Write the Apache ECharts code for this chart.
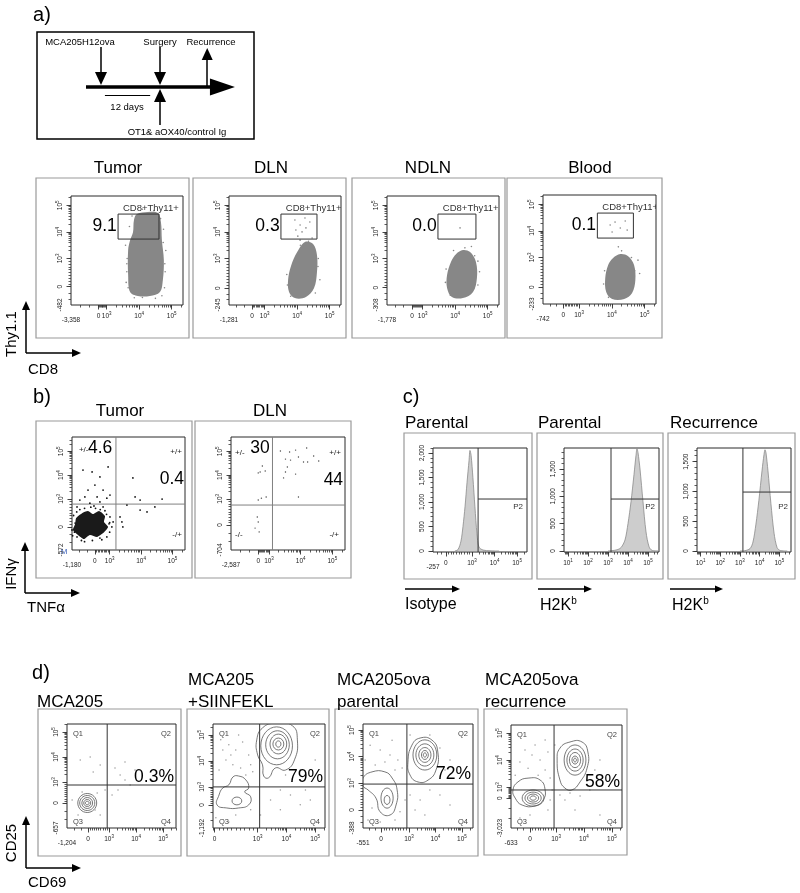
<!DOCTYPE html>
<html><head><meta charset="utf-8">
<script src="https://cdn.jsdelivr.net/npm/echarts@6/dist/echarts.min.js"></script>
<style>html,body{margin:0;padding:0;background:#fff}#c{width:800px;height:893px}</style>
</head><body><div id="c"></div>
<script>
// ===================== DATA =====================
// a) timeline (days)
const tlEvents = ['MCA205H12ova', 'Surgery', 'Recurrence'];
const tlEventDays = [0, 12, 21.6];
const tlTreatment = 'OT1& aOX40/control Ig';
const tlTreatmentDay = 12;
const tlInterval = [0.8, 10];
const tlIntervalLabel = '12 days';

// a) CD8 vs Thy1.1 (axis units: decades, 10^3 = 3)
const aTitles = ['Tumor', 'DLN', 'NDLN', 'Blood'];
const aPercents = ['9.1', '0.3', '0.0', '0.1'];
const aGateName = 'CD8+Thy11+';
const aXMinLabels = ['-3,358', '-1,281', '-1,778', '-742'];
const aYMinLabels = ['-482', '-245', '-308', '-233'];
const aXZero = [2.75, 2.61, 2.67, 2.52];
const aYZero = [1.94, 1.88, 1.9, 1.88];
const aGates = [[3.35, 4.61, 3.73, 4.67], [3.5, 4.61, 3.73, 4.67], [3.47, 4.64, 3.73, 4.67], [3.56, 4.66, 3.73, 4.67]];
const aClouds = [
  [[3.93,4.67],[4.27,4.75],[4.58,4.71],[4.67,4.37],[4.70,3.69],[4.76,2.94],[4.73,2.19],[4.64,1.74],[4.33,1.59],[3.96,1.59],[3.72,1.74],[3.66,2.38],[3.66,3.32],[3.72,3.69],[3.81,3.99],[3.84,4.45]],
  [[4.24,3.62],[4.49,3.54],[4.61,3.13],[4.61,2.49],[4.52,1.89],[4.27,1.55],[3.93,1.51],[3.75,1.74],[3.72,2.19],[3.81,2.72],[4.00,3.24]],
  [[4.24,3.32],[4.46,3.24],[4.64,2.87],[4.67,2.27],[4.55,1.74],[4.24,1.51],[3.90,1.55],[3.75,1.89],[3.75,2.38],[3.87,2.87],[4.03,3.17]],
  [[4.26,3.13],[4.50,3.05],[4.68,2.72],[4.72,2.15],[4.62,1.66],[4.38,1.44],[4.01,1.44],[3.83,1.70],[3.80,2.23],[3.89,2.72],[4.04,2.98]]
];
const aDots = [
  [[3.62,2.8],[3.6,2.1],[4.8,2.5],[4.82,3.3],[4.75,4.1],[3.7,4.2],[4.1,4.85],[3.58,3.5],[4.78,1.9],[4.5,1.5],[3.85,1.52],[3.63,3.0],[3.62,2.5],[4.79,2.8],[4.74,3.6],[4.66,4.5],[4.45,4.8],[3.78,4.6],[3.66,1.9],[4.1,1.53],[4.7,1.6]],
  [[3.93,4.45],[4.09,4.26],[4.24,4.52],[4.15,4.00],[4.02,3.84],[4.27,4.15],[4.39,4.37],[3.96,4.07],[4.09,3.69],[4.46,3.77],[4.65,3.0],[3.68,2.4],[4.7,2.2],[4.1,3.5],[3.7,2.0],[4.64,2.7],[4.56,1.7],[3.8,1.58],[4.35,3.65]],
  [[4.15,4.15],[4.7,2.9],[3.7,2.1],[4.5,3.45],[4.75,2.5],[3.95,3.3],[4.7,2.0],[3.72,2.6],[4.6,3.1],[4.3,3.4],[3.85,1.62]],
  [[3.95,4.22],[4.10,4.33],[4.26,4.11],[4.41,4.37],[4.01,3.96],[4.47,4.03],[4.2,3.4],[4.8,2.9],[3.75,2.0],[4.85,2.4],[4.7,2.5],[3.78,2.5],[4.6,3.0],[4.3,3.25],[3.9,1.5]]
];

// b) TNFa vs IFNg
const bTitles = ['Tumor', 'DLN'];
const bXMinLabels = ['-1,180', '-2,587'];
const bYMinLabels = ['-572', '-704'];
const bXZero = [2.53, 2.66];
const bYZero = [1.82, 1.90];
const bQuadX = [3.20, 3.11];
const bQuadY = [2.78, 2.74];
const bQuadNames = ['+/-', '+/+', '-/-', '-/+'];
const bValues = [['4.6', '0.4'], ['30', '44']];
const bCore = [[1.93,2.19],[2.12,2.40],[2.31,2.49],[2.47,2.36],[2.66,2.49],[2.85,2.28],[2.82,2.03],[2.95,1.82],[2.79,1.56],[2.60,1.40],[2.37,1.48],[2.18,1.31],[1.99,1.48],[1.83,1.69],[1.90,1.94]];
const bDots = [
  [[2.15,4.21],[2.44,4.13],[2.69,3.92],[2.53,3.58],[2.31,3.37],[2.79,3.37],[2.21,3.08],[2.60,3.08],[2.91,3.03],[2.05,2.95],[2.37,2.82],[2.69,2.87],[3.01,3.16],[1.96,2.66],[2.79,2.66],[2.95,4.34],
   [3.74,3.88],[3.81,3.08],[3.97,2.95],[4.67,2.99],[3.33,2.24],[3.39,2.03],[3.42,1.82],[4.19,2.45],[4.44,2.66],[3.97,2.53],[3.55,2.74],
   [1.90,1.98],[3.01,2.24],[3.07,1.82],[2.91,1.40],[1.96,1.40],[2.69,1.35],[1.80,1.69],[3.11,2.03],[2.2,2.6],[2.5,2.7],[2.85,2.5],[3.0,2.0],[2.1,1.25],
   [1.85,2.3],[2.05,2.55],[2.55,2.6],[2.9,2.35],[3.0,1.6],[2.75,1.28],[2.2,1.2],[1.82,1.45],[2.4,2.65],[2.7,2.55],[1.95,2.45],[2.98,1.95],[2.45,1.25],[1.88,1.6]],
  [[3.36,5.01],[3.65,4.97],[3.84,5.05],[4.19,5.14],[3.52,4.67],[3.68,4.63],[3.93,4.76],[4.09,4.55],[4.22,4.55],[4.41,4.80],[4.57,4.59],[3.58,4.34],[3.52,4.13],[3.46,3.88],[3.84,4.04],[3.93,3.08],
   [2.79,4.38],[2.72,4.13],[2.88,4.17],[2.66,4.09],[2.76,3.03],[2.91,3.08],[2.66,2.95],[2.63,2.24],[2.66,2.03],[2.56,1.77],[2.69,1.61]]
];

// c) H2Kb histograms (x: decades, y: counts)
const cTitles = ['Parental', 'Parental', 'Recurrence'];
const cStains = ['Isotype', 'H2K', 'H2K'];
const cStainSup = ['', 'b', 'b'];
const cXMinLabels = ['-257', '0', '0'];
const cHistX = [
  [2.24,2.38,2.51,2.60,2.69,2.78,2.87,2.91,2.96,3.04,3.13,3.22,3.31,3.49,3.80,4.2],
  [3.0,3.20,3.45,3.65,3.85,4.00,4.15,4.30,4.40,4.45,4.50,4.60,4.75,4.90,5.05,5.20,5.5],
  [3.0,3.25,3.51,3.66,3.81,3.96,4.12,4.22,4.27,4.32,4.42,4.57,4.73,4.88,5.03,5.4]
];
const cHistY = [
  [0,30,200,500,900,1400,1850,2050,1950,1500,900,350,80,20,5,0],
  [0,5,20,60,200,500,900,1400,1750,1870,1800,1500,900,350,80,10,0],
  [0,5,40,150,450,850,1350,1620,1700,1650,1350,800,300,60,10,0]
];
const cGateX = [3.27, 3.15, 3.15];
const cGateY = [1060, 950, 990];
const cGateName = 'P2';

// d) CD69 vs CD25
const dTitles = [['MCA205'], ['MCA205', '+SIINFEKL'], ['MCA205ova', 'parental'], ['MCA205ova', 'recurrence']];
const dPercents = ['0.3%', '79%', '72%', '58%'];
const dQuadNames = ['Q1', 'Q2', 'Q3', 'Q4'];
const dXMinLabels = ['-1,204', '-277', '-551', '-633'];
const dYMinLabels = ['-657', '-1,192', '-388', '-3,023'];
const dXZero = [2.22, 1.5, 1.94, 2.07];
const dYZero = [2.16, 2.31, 1.98, 2.59];
const dQuadX = [2.93, 3.07, 2.92, 2.93];
const dQuadY = [2.88, 3.0, 2.96, 2.89];
const dOutlines = [
  [],
  [[[2.97,4.81],[3.17,5.27],[3.62,5.45],[4.21,5.35],[4.38,4.81],[4.28,4.04],[3.97,3.65],[3.62,3.73],[3.38,3.35],[3.21,3.42],[3.17,3.85],[3.0,4.23]],
   [[1.59,2.31],[1.66,2.69],[1.79,2.96],[2.0,3.08],[2.14,3.38],[2.34,3.42],[2.59,3.27],[2.69,2.96],[2.55,2.81],[2.76,2.62],[2.69,2.31],[2.34,2.19],[1.93,2.19]]],
  [[[2.96,3.79],[3.11,4.43],[3.42,4.70],[3.87,4.62],[4.09,4.17],[4.02,3.49],[3.72,3.11],[3.34,3.04],[3.04,3.30]],
   [[1.26,3.19],[1.60,3.42],[2.09,3.42],[2.36,3.19],[2.55,2.74],[2.51,2.17],[2.28,1.79],[1.91,1.91],[1.75,2.43],[1.45,2.74],[1.26,2.89]]],
  [[[1.46,2.89],[1.64,3.19],[2.0,3.33],[2.43,3.26],[2.61,2.89],[2.54,2.52],[2.25,2.30],[1.79,2.33],[1.54,2.59]],
   [[3.04,4.0],[3.14,4.44],[3.5,4.67],[3.93,4.67],[4.14,4.30],[4.11,3.70],[3.86,3.19],[3.57,2.89],[3.32,2.96],[3.14,3.26]]]
];
const dRings = [
  [[2.19,2.16,0.35,0.38],[2.19,2.16,0.28,0.30],[2.19,2.16,0.20,0.22],[2.19,2.16,0.13,0.14],[2.19,2.16,0.07,0.07]],
  [[3.66,4.58,0.55,0.73],[3.69,4.62,0.41,0.54],[3.72,4.65,0.29,0.38],[3.72,4.65,0.19,0.23],[3.72,4.65,0.09,0.12],[2.28,2.46,0.17,0.15]],
  [[3.60,4.06,0.45,0.57],[3.60,4.06,0.34,0.42],[3.60,4.06,0.23,0.28],[3.60,4.06,0.13,0.17],[3.60,4.06,0.06,0.08],[2.17,2.43,0.23,0.38],[2.17,2.36,0.11,0.17]],
  [[2.18,2.59,0.39,0.30],[2.18,2.59,0.29,0.22],[2.18,2.59,0.20,0.15],[2.18,2.59,0.11,0.08],[3.68,4.0,0.39,0.56],[3.68,4.0,0.29,0.41],[3.68,4.0,0.2,0.28],[3.68,4.0,0.11,0.15],[3.68,4.0,0.05,0.07]]
];
const dDots = [
  [[2.41,3.4],[2.67,3.68],[3.22,3.56],[3.41,3.28],[3.59,3.08],[3.33,2.68],[3.78,2.88],[3.11,2.48],[2.85,2.68],[2.56,2.56],[1.93,3.88],[2.30,4.0],[3.59,3.8],[3.96,3.48],[1.85,1.68],[2.67,1.68],[2.48,1.88],[2.0,2.6],[1.63,2.28]],
  [[1.72,4.81],[2.0,4.62],[2.24,4.42],[2.48,4.73],[2.69,4.23],[1.9,4.04],[2.14,3.85],[2.41,3.73],[2.76,3.85],[1.66,3.65],[2.59,3.46],[2.83,3.58],[2.07,4.23],[2.34,5.0],[1.79,4.42],[4.48,3.65],[4.66,2.88],[4.14,2.69],[3.79,2.88],[3.45,2.5],[4.48,2.31],[4.83,2.5],[3.79,2.12],[3.1,1.92],[3.97,3.46],[4.48,3.27],[5.0,4.04],[2.24,1.92],[2.76,2.12],[1.55,1.81],[2.0,1.65]],
  [[1.53,4.43],[1.91,4.25],[2.28,4.06],[2.58,3.87],[1.72,3.68],[2.09,3.79],[2.47,3.49],[2.74,3.57],[1.60,2.06],[2.66,1.91],[2.85,2.36],[3.04,2.55],[3.42,2.36],[3.79,2.74],[4.17,2.55],[4.55,2.17],[3.23,1.98],[3.6,1.79],[2.47,1.60],[1.91,1.53],[4.36,3.49],[4.55,3.87],[4.17,4.32],[3.79,4.81],[3.04,4.81],[2.36,4.62],[1.34,3.87],[1.45,1.60]],
  [[1.89,4.37],[2.14,4.19],[2.43,4.0],[2.71,4.3],[2.25,4.56],[2.61,3.63],[2.79,3.33],[2.0,3.7],[2.36,3.44],[1.71,3.93],[2.86,2.89],[3.14,2.7],[3.5,2.78],[3.32,2.52],[3.86,2.67],[4.21,2.89],[4.39,3.63],[4.57,4.0],[2.79,2.52],[2.71,2.15],[2.07,1.96],[1.71,1.85],[3.68,2.15],[4.57,1.96],[2.96,4.56],[2.61,4.74],[1.54,3.44]]
];

// ===================== LAYOUT / STYLE =====================
const FONT = '"Liberation Sans", Arial, Helvetica, sans-serif';
const aLayout = {
  grids: [[71,196,112,109],[229,196,112,109],[387,196,112,109],[543,195,113,109]],
  boxes: [[36,178,153,160],[193,178,153,160],[352,178,153,160],[507,178,155,160]],
  titleXY: [[118,168],[271,168],[428,168],[590,168]],
  xRange: [1.9, 5.35], yRange: [1.25, 5.35]
};
const bLayout = {
  grids: [[72,437,113,113],[231,437,114,113]],
  boxes: [[36,421,156,157],[195,421,156,157]],
  titleXY: [[120,411],[270,411]],
  xRange: [1.8, 5.4], yRange: [0.85, 5.6],
  anno: [
    {pm:[2.02,5.05], val:[2.31,5.14], pp:[5.3,4.97], ppVal:[5.37,3.83], mm:null, mp:[5.3,1.48]},
    {pm:[1.93,4.93], val:[2.41,5.14], pp:[5.27,4.93], ppVal:[5.34,3.79], mm:[1.93,1.48], mp:[5.21,1.48]}
  ]
};
const cLayout = {
  grids: [[433,448,94,104],[564,448,95,104],[697,448,94,104]],
  boxes: [[404,433,128,146],[537,433,126,146],[668,433,127,146]],
  titleXY: [[405,423],[538,423],[670,423]],
  xAxes: [{kind:'biex',min:1.27,max:5.44,zero:1.84},{kind:'log',min:0.8,max:5.55},{kind:'log',min:0.82,max:5.59}],
  yRanges: [[-20,2100],[-20,1885],[-17,1730]],
  p2: [[5.26,900],[5.35,805],[5.44,740]],
  arrows: [[405,460],[538,592],[670,723]], arrowY: 589,
  labelXY: [[405,605],[540,605],[672,605]]
};
const dLayout = {
  grids: [[67,724,109,104],[213,724,112,104],[363,724,110,104],[511,725,111,103]],
  boxes: [[38,709,143,147],[187,709,142,147],[335,709,143,147],[484,709,143,146]],
  titleX: [37,188,337,485], titleY: [680,702],
  xRanges: [[1.44,5.48],[1.45,5.34],[1.26,5.42],[1.39,5.36]],
  yRanges: [[1.16,5.32],[1.42,5.42],[1.30,5.23],[1.48,5.30]],
  pctY: [3.2,3.38,3.34,3.19]
};

// ===================== BUILD =====================
const option = {animation:false, backgroundColor:'#ffffff', textStyle:{fontFamily:FONT},
  grid:[], xAxis:[], yAxis:[], series:[], graphic:[]};

function fmtComma(v){ return v>=1000 ? Math.floor(v/1000)+','+String(v%1000).padStart(3,'0') : String(v); }

function axisSpec(kind, o){
  const s = {min:o.min, max:o.max, labels:[], major:[], minor:[]};
  if (kind === 'biex'){
    s.labels.push([o.min, o.minLabel, true], [o.zero, '0', false]);
    s.major.push(o.zero);
    for (let d=3; d<=5; d++) if (d <= o.max){ s.labels.push([d, '10^'+d, false]); s.major.push(d); }
    const step = (3 - o.zero)/10;
    for (let k=1; k<10; k++) s.minor.push(o.zero + step*k);
    for (let k=1; k<=2; k++) s.minor.push(o.zero - (o.zero - o.min)*k/3);
    for (let d=3; d<=5; d++) for (let k=2; k<=9; k++){ const v = d + Math.log10(k); if (v < o.max) s.minor.push(v); }
  } else if (kind === 'log'){
    s.labels.push([o.min, '0', true]);
    for (let d=1; d<=5; d++){ s.labels.push([d, '10^'+d, false]); s.major.push(d); }
    for (let d=0; d<=5; d++) for (let k=2; k<=9; k++){ const v = d + Math.log10(k); if (v > o.min && v < o.max) s.minor.push(v); }
  } else {
    for (let v=0; v<=o.max; v+=o.step){ s.labels.push([v, fmtComma(v), false]); s.major.push(v); }
    for (let v=0; v<=o.max; v+=o.minorStep) s.minor.push(v);
  }
  return s;
}

const RICH = {
  b:{fontSize:6.5, fontFamily:FONT, color:'#222', lineHeight:9, verticalAlign:'bottom'},
  s:{fontSize:4.5, fontFamily:FONT, color:'#222', lineHeight:5, verticalAlign:'top'},
  m:{fontSize:6.5, fontFamily:FONT, color:'#222', padding:[6,0,0,0]}
};
function richText(t, isMin, dim){
  const m = /^10\^(\d)$/.exec(t);
  if (m) return '{b|10}{s|' + m[1] + '}';
  if (isMin && dim === 'x') return '{m|' + t + '}';
  return '{b|' + t + '}';
}

function pushAxes(dim, gi, spec){
  const arr = dim === 'x' ? option.xAxis : option.yAxis;
  const idx = arr.length;
  const lab = new Map(spec.labels.map(l => [l[0].toFixed(4), l]));
  const base = {gridIndex:gi, type:'value', min:spec.min, max:spec.max, position: dim==='x'?'bottom':'left',
    splitLine:{show:false}, axisLine:{show:false, onZero:false}};
  arr.push(Object.assign({}, base, {
    axisTick:{show:true, customValues:spec.minor.concat(spec.major), length:2.5, lineStyle:{color:'#333', width:0.8}},
    axisLabel:{show:true, customValues:spec.labels.map(l => l[0]), margin: dim==='x'?6:7, rotate: dim==='y'?90:0,
      color:'#222', fontSize:6.5,
      formatter: function(v){ const l = lab.get(Number(v).toFixed(4)); return l ? richText(l[1], l[2], dim) : ''; },
      rich: RICH}
  }));
  arr.push(Object.assign({}, base, {
    axisTick:{show:true, customValues:spec.major, length:4.5, lineStyle:{color:'#333', width:0.9}},
    axisLabel:{show:false}
  }));
  return idx;
}

function renderShapes(items){
  return function(params, api){
    const s = items[params.dataIndex];
    if (!s) return null;
    if (s.t === 'poly' || s.t === 'line'){
      const pts = s.pts.map(p => api.coord(p));
      return {type: s.t==='poly' ? 'polygon' : 'polyline', silent:true,
        shape:{points:pts, smooth:s.smooth||0},
        style:{fill:s.fill||'none', stroke:s.stroke||'none', lineWidth:s.lw||1}};
    }
    if (s.t === 'ell'){
      const c = api.coord([s.e[0], s.e[1]]), r = api.size([s.e[2], s.e[3]]);
      return {type:'ellipse', silent:true, shape:{cx:c[0], cy:c[1], rx:Math.abs(r[0]), ry:Math.abs(r[1])},
        style:{fill:'none', stroke:s.stroke||'#555', lineWidth:s.lw||0.8}};
    }
    if (s.t === 'text'){
      const c = api.coord(s.p);
      return {type:'text', silent:true, x:c[0]+(s.dx||0), y:c[1]+(s.dy||0),
        style:{text:s.text, font:s.size+'px '+FONT, fill:s.color||'#000', align:s.align||'center', verticalAlign:s.va||'middle'}};
    }
    return null;
  };
}
function customSeries(ref, items, z){
  return Object.assign({type:'custom', coordinateSystem:'cartesian2d', clip:true, z:z, silent:true,
    data: items.map((_, i) => [i, 0]), renderItem: renderShapes(items)}, ref);
}

function buildPlot(cfg){
  const gi = option.grid.length;
  const g = cfg.grid;
  option.grid.push({left:g[0], top:g[1], width:g[2], height:g[3], show:true, borderColor:'#2a2a2a', borderWidth:1, backgroundColor:'rgba(0,0,0,0)'});
  const xi = pushAxes('x', gi, cfg.x);
  const yi = pushAxes('y', gi, cfg.y);
  const ref = {xAxisIndex:xi, yAxisIndex:yi};
  if (cfg.under && cfg.under.length) option.series.push(customSeries(ref, cfg.under, 1));
  (cfg.hist || []).forEach(h => option.series.push(Object.assign({type:'line', data:h, smooth:0.3, showSymbol:false, symbol:'none',
    lineStyle:{color:'#8a8a8a', width:0.8}, areaStyle:{color:'#cdcdcd', opacity:1}, clip:true, silent:true, z:1}, ref)));
  (cfg.dots || []).forEach(d => option.series.push(Object.assign({type:'scatter', data:d.data, symbolSize:d.size,
    itemStyle:{color:d.color, opacity:1}, silent:true, clip:true, z:2}, ref)));
  if (cfg.over && cfg.over.length) option.series.push(customSeries(ref, cfg.over, 3));
}

// graphic helpers
function gText(x, y, text, size, o){
  o = o || {};
  const st = {text:text, font:size+'px '+FONT, fill:o.color||'#000',
    align:o.align||'center', verticalAlign:o.va||'middle', textAlign:o.align||'center', textVerticalAlign:o.va||'middle'};
  if (o.rich) st.rich = o.rich;
  return {type:'text', x:x, y:y, rotation:o.rot||0, silent:true, style:st};
}
function gBox(b, color, lw){
  return {type:'rect', silent:true, shape:{x:b[0], y:b[1], width:b[2], height:b[3]},
    style:{fill:'none', stroke:color||'#9a9a9a', lineWidth:lw||1.2}};
}
function gArrow(x1, y1, x2, y2, lw, hl, hw){
  const dx = x2-x1, dy = y2-y1, len = Math.hypot(dx, dy), ux = dx/len, uy = dy/len;
  const bx = x2-ux*hl, by = y2-uy*hl, px = -uy, py = ux;
  return [
    {type:'polyline', silent:true, shape:{points:[[x1,y1],[bx+ux,by+uy]]}, style:{stroke:'#000', lineWidth:lw, fill:'none'}},
    {type:'polygon', silent:true, shape:{points:[[x2,y2],[bx+px*hw/2,by+py*hw/2],[bx-px*hw/2,by-py*hw/2]]}, style:{fill:'#000'}}
  ];
}
function addAxisArrows(x0, y0, top, right, vName, hName, vY, hY){
  option.graphic.push(...gArrow(x0, y0, x0, top, 1.5, 9, 8), ...gArrow(x0, y0, right, y0, 1.5, 9, 8));
  option.graphic.push(gText(12, vY, vName, 15, {rot:Math.PI/2}));
  option.graphic.push(gText(x0+2, hY, hName, 15, {align:'left'}));
}

// ---------- panel letters ----------
option.graphic.push(gText(42, 15, 'a)', 20), gText(42, 397, 'b)', 20), gText(411, 397, 'c)', 20), gText(41, 673, 'd)', 20));

// ---------- a) timeline ----------
(function(){
  const gi = option.grid.length;
  option.grid.push({left:86, top:37, width:149, height:100, show:false});
  const xi = option.xAxis.length, yi = option.yAxis.length;
  option.xAxis.push({gridIndex:gi, type:'value', min:-3.05, max:27.25, show:false});
  option.yAxis.push({gridIndex:gi, type:'value', min:0, max:100, show:false});
  const Y = 50;
  const segs = [
    {coords:[[-3.05,Y],[22.6,Y]], lineStyle:{width:3.5}},
    {coords:[[tlEventDays[0],90],[tlEventDays[0],60]], lineStyle:{width:1.5}},
    {coords:[[tlEventDays[1],90],[tlEventDays[1],60]], lineStyle:{width:1.5}},
    {coords:[[tlEventDays[2],Y],[tlEventDays[2],80]], lineStyle:{width:1.5}},
    {coords:[[tlTreatmentDay,12],[tlTreatmentDay,40]], lineStyle:{width:1.5}},
    {coords:[[tlInterval[0],42],[tlInterval[1],42]], lineStyle:{width:1}}
  ];
  option.series.push({type:'lines', coordinateSystem:'cartesian2d', xAxisIndex:xi, yAxisIndex:yi, data:segs,
    lineStyle:{color:'#000', opacity:1, curveness:0}, symbol:'none', silent:true, z:3});
  const heads = [
    {value:[24.7,Y], symbolSize:[17,25], symbolRotate:-90},
    {value:[tlEventDays[0],58.5], symbolSize:[12,13], symbolRotate:180},
    {value:[tlEventDays[1],58.5], symbolSize:[12,13], symbolRotate:180},
    {value:[tlEventDays[2],83], symbolSize:[11,12], symbolRotate:0},
    {value:[tlTreatmentDay,41.5], symbolSize:[12,13], symbolRotate:0}
  ];
  option.series.push({type:'scatter', xAxisIndex:xi, yAxisIndex:yi, data:heads, symbol:'triangle',
    itemStyle:{color:'#000', opacity:1}, silent:true, clip:false, z:3});
  option.graphic.push(gBox([37,32,217,107], '#000', 1.5));
  const evX = [80, 160, 211];
  tlEvents.forEach((e, i) => option.graphic.push(gText(evX[i], 42, e, 9.5)));
  option.graphic.push(gText(127, 107, tlIntervalLabel, 9.5), gText(177, 132, tlTreatment, 9.5));
})();

// ---------- a) flow plots ----------
aTitles.forEach((t, i) => {
  const g = aGates[i];
  buildPlot({
    grid: aLayout.grids[i],
    x: axisSpec('biex', {min:aLayout.xRange[0], max:aLayout.xRange[1], zero:aXZero[i], minLabel:aXMinLabels[i]}),
    y: axisSpec('biex', {min:aLayout.yRange[0], max:aLayout.yRange[1], zero:aYZero[i], minLabel:aYMinLabels[i]}),
    under: [{t:'poly', pts:aClouds[i], fill:'#878787', smooth:0.35}],
    dots: [{data:aDots[i], size:1.6, color:'#878787'}],
    over: [
      {t:'poly', pts:[[g[0],g[2]],[g[1],g[2]],[g[1],g[3]],[g[0],g[3]]], stroke:'#333', lw:1},
      {t:'text', p:[g[0]+0.15, g[3]+0.23], text:aGateName, size:9.5, align:'left', color:'#333'},
      {t:'text', p:[g[0]-0.04, (g[2]+g[3])/2], text:aPercents[i], size:17.5, align:'right'}
    ]
  });
  option.graphic.push(gBox(aLayout.boxes[i]), gText(aLayout.titleXY[i][0], aLayout.titleXY[i][1], t, 17));
});
addAxisArrows(26, 353, 301, 81, 'Thy1.1', 'CD8', 334, 370);

// ---------- b) ----------
bTitles.forEach((t, i) => {
  const xr = bLayout.xRange, yr = bLayout.yRange, an = bLayout.anno[i];
  const under = [
    {t:'line', pts:[[bQuadX[i], yr[0]],[bQuadX[i], yr[1]]], stroke:'#808080', lw:1},
    {t:'line', pts:[[xr[0], bQuadY[i]],[xr[1], bQuadY[i]]], stroke:'#808080', lw:1}
  ];
  if (i === 0) under.push({t:'poly', pts:bCore, fill:'#1a1a1a', smooth:0.2});
  const over = [
    {t:'text', p:an.pm, text:bQuadNames[0], size:8, align:'left', color:'#222'},
    {t:'text', p:an.val, text:bValues[i][0], size:17.5, align:'left'},
    {t:'text', p:an.pp, text:bQuadNames[1], size:8, align:'right', color:'#222'},
    {t:'text', p:an.ppVal, text:bValues[i][1], size:17.5, align:'right'},
    {t:'text', p:an.mp, text:bQuadNames[3], size:8, align:'right', color:'#222'}
  ];
  if (an.mm) over.push({t:'text', p:an.mm, text:bQuadNames[2], size:8, align:'left', color:'#222'});
  buildPlot({
    grid: bLayout.grids[i],
    x: axisSpec('biex', {min:xr[0], max:xr[1], zero:bXZero[i], minLabel:bXMinLabels[i]}),
    y: axisSpec('biex', {min:yr[0], max:yr[1], zero:bYZero[i], minLabel:bYMinLabels[i]}),
    under: under,
    dots: [{data:bDots[i], size:i===0?1.8:1.4, color:i===0?'#111':'#444'}],
    over: over
  });
  option.graphic.push(gBox(bLayout.boxes[i]), gText(bLayout.titleXY[i][0], bLayout.titleXY[i][1], t, 17));
});
option.graphic.push(gText(64, 552, 'M', 8, {color:'#3a5fb8'}));
addAxisArrows(25, 593, 542, 80, 'IFNγ', 'TNFα', 574, 608);

// ---------- c) ----------
cTitles.forEach((t, i) => {
  const xa = cLayout.xAxes[i], yr = cLayout.yRanges[i];
  const xs = xa.kind === 'biex'
    ? axisSpec('biex', {min:xa.min, max:xa.max, zero:xa.zero, minLabel:cXMinLabels[i]})
    : axisSpec('log', {min:xa.min, max:xa.max});
  const ys = axisSpec('lin', {min:yr[0], max:yr[1], step:500, minorStep:100});
  buildPlot({
    grid: cLayout.grids[i], x: xs, y: ys,
    hist: [cHistX[i].map((x, k) => [x, cHistY[i][k]])],
    over: [
      {t:'line', pts:[[cGateX[i], yr[0]],[cGateX[i], yr[1]]], stroke:'#333', lw:1},
      {t:'line', pts:[[cGateX[i], cGateY[i]],[xa.max, cGateY[i]]], stroke:'#333', lw:1},
      {t:'text', p:cLayout.p2[i], text:cGateName, size:8, align:'right', color:'#333'}
    ]
  });
  option.graphic.push(gBox(cLayout.boxes[i]), gText(cLayout.titleXY[i][0], cLayout.titleXY[i][1], t, 17, {align:'left'}));
  const ar = cLayout.arrows[i];
  option.graphic.push(...gArrow(ar[0], cLayout.arrowY, ar[1], cLayout.arrowY, 1.3, 8, 7));
  const lx = cLayout.labelXY[i];
  if (cStainSup[i]) {
    option.graphic.push(gText(lx[0], lx[1], '{n|' + cStains[i] + '}{s|' + cStainSup[i] + '}', 16, {align:'left',
      rich:{n:{fontSize:16, fontFamily:FONT, lineHeight:18, verticalAlign:'bottom'}, s:{fontSize:10, fontFamily:FONT, lineHeight:10, verticalAlign:'top'}}}));
  } else {
    option.graphic.push(gText(lx[0], lx[1], cStains[i], 16, {align:'left'}));
  }
});

// ---------- d) ----------
dTitles.forEach((lines, i) => {
  const xr = dLayout.xRanges[i], yr = dLayout.yRanges[i];
  const under = [];
  dOutlines[i].forEach(o => under.push({t:'poly', pts:o, stroke:'#555', lw:0.8, smooth:0.5}));
  dRings[i].forEach(r => under.push({t:'ell', e:r, stroke:'#555', lw:0.8}));
  const over = [
    {t:'line', pts:[[dQuadX[i], yr[0]],[dQuadX[i], yr[1]]], stroke:'#333', lw:1},
    {t:'line', pts:[[xr[0], dQuadY[i]],[xr[1], dQuadY[i]]], stroke:'#333', lw:1},
    {t:'text', p:[xr[0], yr[1]], dx:6, dy:10, text:dQuadNames[0], size:7.5, align:'left', color:'#444'},
    {t:'text', p:[xr[1], yr[1]], dx:-5, dy:10, text:dQuadNames[1], size:7.5, align:'right', color:'#444'},
    {t:'text', p:[xr[0], yr[0]], dx:6, dy:-6, text:dQuadNames[2], size:7.5, align:'left', color:'#444'},
    {t:'text', p:[xr[1], yr[0]], dx:-5, dy:-6, text:dQuadNames[3], size:7.5, align:'right', color:'#444'},
    {t:'text', p:[xr[1], dLayout.pctY[i]], dx:-2, text:dPercents[i], size:17.5, align:'right'}
  ];
  buildPlot({
    grid: dLayout.grids[i],
    x: axisSpec('biex', {min:xr[0], max:xr[1], zero:dXZero[i], minLabel:dXMinLabels[i]}),
    y: axisSpec('biex', {min:yr[0], max:yr[1], zero:dYZero[i], minLabel:dYMinLabels[i]}),
    under: under,
    dots: [{data:dDots[i], size:1.5, color:'#9a9a9a'}],
    over: over
  });
  option.graphic.push(gBox(dLayout.boxes[i]));
  if (lines.length === 1) option.graphic.push(gText(dLayout.titleX[i], dLayout.titleY[1], lines[0], 17, {align:'left'}));
  else lines.forEach((s, k) => option.graphic.push(gText(dLayout.titleX[i], dLayout.titleY[k], s, 17, {align:'left'})));
});
addAxisArrows(26, 868, 816, 81, 'CD25', 'CD69', 843, 883);

const chart = echarts.init(document.getElementById('c'), null, {renderer:'canvas'});
chart.setOption(option);
</script>
</body></html>
